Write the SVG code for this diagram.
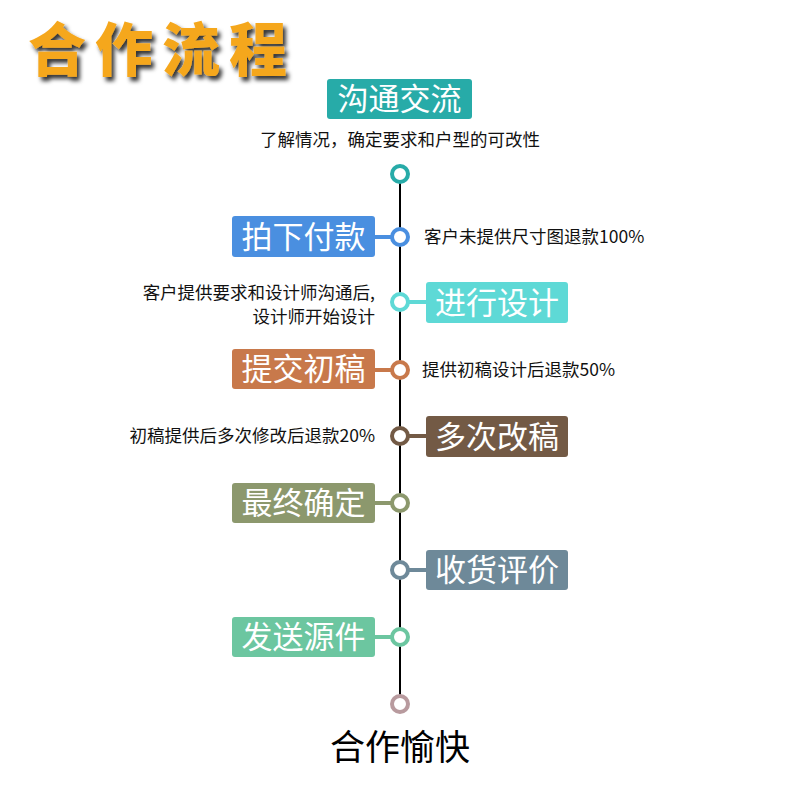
<svg xmlns="http://www.w3.org/2000/svg" width="800" height="800" viewBox="0 0 800 800">
<defs>
<style>
.bt{font-family:"Noto Sans CJK SC",sans-serif;font-size:31px;fill:#fff;text-anchor:middle}
.st{font-family:"Noto Sans CJK SC",sans-serif;font-size:17.5px;fill:#111}
.ring{fill:#fff;stroke-width:4}
.ln{stroke-width:4}
</style>
<filter id="sh" x="-10%" y="-10%" width="130%" height="140%"><feDropShadow dx="3" dy="4" stdDeviation="2" flood-color="#000" flood-opacity="0.8"/></filter>
</defs>
<rect width="800" height="800" fill="#fff"/>
<text x="28" y="71" font-family="Noto Sans CJK SC,sans-serif" font-weight="900" font-size="58" fill="#f5a71e" letter-spacing="9" filter="url(#sh)">合作流程</text>
<g id="connectors">
<line x1="400" y1="183" x2="400" y2="695" stroke="#000" stroke-width="2"/>
</g>
<g id="n1"><rect x="327" y="79" width="145" height="40" rx="3" fill="#27aba8"/><text class="bt" x="399.5" y="110">沟通交流</text>
<text class="st" x="400" y="146" text-anchor="middle">了解情况，确定要求和户型的可改性</text>
<circle class="ring" cx="400" cy="174" r="8" stroke="#27aba8"/></g>
<g id="n2"><rect x="232" y="216" width="143" height="41" rx="3" fill="#4a8fe0"/><text class="bt" x="303.5" y="248">拍下付款</text>
<line class="ln" x1="375" y1="237" x2="392" y2="237" stroke="#4a8fe0"/><circle class="ring" cx="400" cy="237" r="8" stroke="#4a8fe0"/>
<text class="st" x="424" y="243">客户未提供尺寸图退款100%</text></g>
<g id="n3"><rect x="426" y="282" width="142" height="41" rx="3" fill="#5ed9d6"/><text class="bt" x="497" y="314">进行设计</text>
<line class="ln" x1="408" y1="302" x2="426" y2="302" stroke="#5ed9d6"/><circle class="ring" cx="400" cy="302" r="8" stroke="#5ed9d6"/>
<text class="st" x="375" y="299" text-anchor="end">客户提供要求和设计师沟通后,</text><text class="st" x="375" y="323" text-anchor="end">设计师开始设计</text></g>
<g id="n4"><rect x="232" y="349" width="143" height="40" rx="3" fill="#c8794b"/><text class="bt" x="303.5" y="380">提交初稿</text>
<line class="ln" x1="375" y1="370" x2="392" y2="370" stroke="#c8794b"/><circle class="ring" cx="400" cy="370" r="8" stroke="#c8794b"/>
<text class="st" x="422" y="376">提供初稿设计后退款50%</text></g>
<g id="n5"><rect x="426" y="416" width="142" height="41" rx="3" fill="#735a45"/><text class="bt" x="497" y="448">多次改稿</text>
<line class="ln" x1="408" y1="436" x2="426" y2="436" stroke="#735a45"/><circle class="ring" cx="400" cy="436" r="8" stroke="#735a45"/>
<text class="st" x="375" y="442" text-anchor="end">初稿提供后多次修改后退款20%</text></g>
<g id="n6"><rect x="232" y="483" width="143" height="40" rx="3" fill="#8c986d"/><text class="bt" x="303.5" y="514">最终确定</text>
<line class="ln" x1="375" y1="503" x2="392" y2="503" stroke="#8c986d"/><circle class="ring" cx="400" cy="503" r="8" stroke="#8c986d"/></g>
<g id="n7"><rect x="426" y="550" width="142" height="40" rx="3" fill="#6e8999"/><text class="bt" x="497" y="581">收货评价</text>
<line class="ln" x1="408" y1="570" x2="426" y2="570" stroke="#6e8999"/><circle class="ring" cx="400" cy="570" r="8" stroke="#6e8999"/></g>
<g id="n8"><rect x="232" y="617" width="143" height="40" rx="3" fill="#6cc6a0"/><text class="bt" x="303.5" y="648">发送源件</text>
<line class="ln" x1="375" y1="637" x2="392" y2="637" stroke="#6cc6a0"/><circle class="ring" cx="400" cy="637" r="8" stroke="#6cc6a0"/></g>
<g id="n9"><circle class="ring" cx="400" cy="704" r="8" stroke="#b89a9e"/>
<text x="400" y="760" font-family="Noto Sans CJK SC,sans-serif" font-size="35" fill="#000" text-anchor="middle">合作愉快</text></g>
</svg>
